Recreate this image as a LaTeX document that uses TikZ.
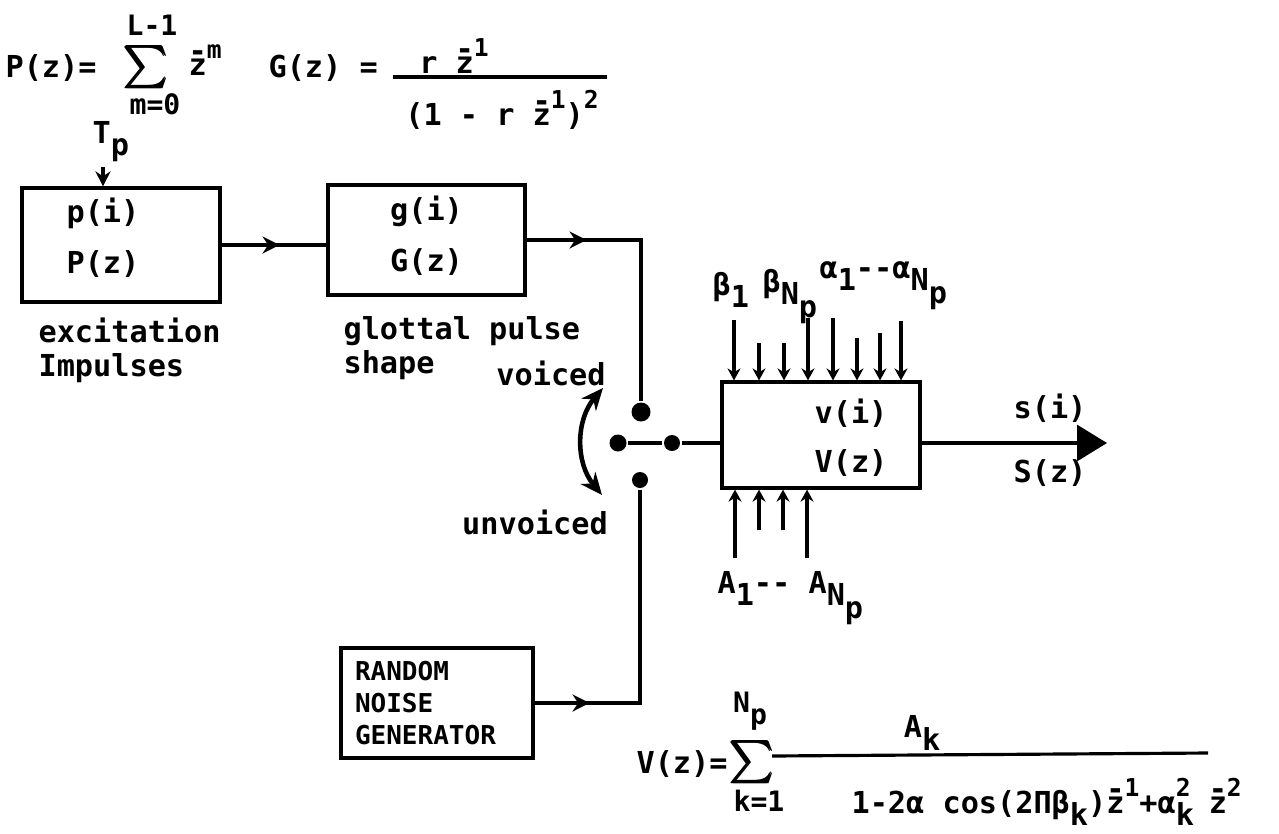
\documentclass[tikz,border=0pt]{standalone}
\usepackage{fontspec}
\setmainfont{DejaVu Sans Mono}
\usepackage{amsmath,amssymb,bm}
\usetikzlibrary{arrows.meta,decorations.markings,calc}

% raised / lowered pieces of the lettered formulas
\newcommand{\hi}[1]{\raisebox{0.55em}{\fontsize{7}{7}\selectfont #1}}
\newcommand{\lo}[1]{\raisebox{-0.42em}{#1}}
\newcommand{\zpow}[1]{\ooalign{z\cr\hfil\raisebox{0.45em}{-}\hfil\cr}\hi{#1}}
\newcommand{\bigsum}{{\fontsize{12}{12}\selectfont$\boldsymbol{\sum}$}}

\begin{document}
\begin{tikzpicture}[x=1cm,y=1cm, line width=0.9pt,
  font=\fontsize{8.6}{9.7}\selectfont\bfseries,
  flow/.style={-{Stealth[length=1.5mm,width=1.5mm]}},
  parm/.style={-{Stealth[length=1.2mm,width=1.3mm]}},
  midarrow/.style={postaction={decorate}, decoration={markings,
    mark=at position #1 with {\arrow{Stealth[length=1.7mm,width=1.7mm]}}}},
  box/.style={draw, minimum width=1.98cm, minimum height=1.12cm, inner sep=0pt},
  dot/.style={circle, fill, inner sep=0pt, minimum size=1.7mm},
  inbox/.style={align=center, inner sep=0pt},
  note/.style={align=left, anchor=west, inner sep=0pt},
  lbl/.style={inner sep=0pt, anchor=base west},
  sigma/.style={inner sep=0pt},
  limit/.style={inner sep=0pt, font=\fontsize{8}{8}\selectfont\bfseries}]

\path[use as bounding box] (0,0) rectangle (12.79,8.33);

% ------------------------------------------------------------------ formulas on top
\node[lbl] (pz) at (0.04,7.56) {P(z)=};
\node[sigma] (sumP) at (1.46,7.66) {\bigsum};
\node[limit] (sumPhi) at (1.52,8.08) {L-1};
\node[limit] (sumPlo) at (1.55,7.29) {m=0};
\node[lbl] (zm) at (1.87,7.58) {\zpow{m}};

\node[lbl] (gz) at (2.67,7.56) {G(z) =};
\coordinate (gfa) at (3.93,7.56);
\coordinate (gfb) at (6.07,7.56);
\draw (gfa) -- (gfb);
\node (gnum) at (4.54,7.77) {r \zpow{1}};
\node (gden) at (5.02,7.23) {(1 - r \zpow{1})\hi{2}};

% ------------------------------------------------------------------ voiced branch
\node[lbl] (tp) at (0.91,6.90) {T\lo{p}};
\coordinate (tpin) at (1.03,6.66);

\node[box, minimum height=1.14cm] (excit) at (1.21,5.88) {};
\node[inbox] (excitTxt) at ($(excit.center)+(-0.18,0.07)$) {p(i)\\[4.8pt]P(z)};
\node[note] (excitNote) at (0.37,4.83) {excitation\\Impulses};

\node[box, minimum width=1.97cm, minimum height=1.10cm] (glot) at (4.265,5.93) {};
\node[inbox] (glotTxt) at ($(glot.center)+(0,0.04)$) {g(i)\\[4.8pt]G(z)};
\node[note] (glotNote) at (3.42,4.85) {glottal pulse\\shape};

\draw[flow] (tpin) -- (tpin |- excit.north);
\draw[midarrow=0.58cm] (excit.east) -- (excit.east -| glot.west);

% ------------------------------------------------------------------ switch
\node[dot, minimum size=1.9mm] (vdot) at (6.41,4.21) {};
\node[dot] (sdot) at (6.18,3.90) {};
\node[dot, minimum size=1.6mm] (pdot) at (6.72,3.90) {};
\node[dot, minimum size=1.6mm] (udot) at (6.40,3.53) {};
\coordinate (swtop) at (6.03,4.45);
\coordinate (swbot) at (6.02,3.38);
\draw[line width=1.3pt, {Stealth[length=2.2mm,width=1.9mm]}-{Stealth[length=2.2mm,width=1.9mm]}]
  (swtop) to[bend right=40] (swbot);
\node (voiced) at (5.51,4.60) {voiced};
\node (unvoiced) at (5.35,3.11) {unvoiced};

\draw[midarrow=0.6cm] (glot.east) -| (vdot);

% ------------------------------------------------------------------ vocal tract
\node[box, minimum height=1.06cm] (tract) at (8.21,3.98) {};
\node[inbox] (tractTxt) at ($(tract.center)+(0.30,-0.03)$) {v(i)\\[4.2pt]V(z)};
\draw (sdot) -- (pdot) -- (pdot -| tract.west);

\foreach \x/\y [count=\i] in {7.34/5.13, 7.59/4.90, 7.84/4.90, 8.08/5.15,
                               8.33/5.15, 8.57/4.95, 8.80/5.00, 9.01/5.12} {
  \coordinate (b\i) at (\x,\y);
  \draw[parm] (b\i) -- (b\i |- tract.north);
}
\foreach \x/\y [count=\i] in {7.35/2.75, 7.59/3.03, 7.83/3.03, 8.07/2.75} {
  \coordinate (a\i) at (\x,\y);
  \draw[parm] (a\i) -- (a\i |- tract.south);
}
\node[lbl] (betaA) at (7.11,5.38) {β\lo{1}};
\node[lbl] (betaB) at (7.61,5.41) {β\lo{N\lo{p}}};
\node[lbl] (alphas) at (8.18,5.55) {α\lo{1}-{}-α\lo{N\lo{p}}};
\node[lbl] (amps) at (7.16,2.40) {A\lo{1}-{}- A\lo{N\lo{p}}};

\coordinate (out) at (11.07,3.90);
\draw[-{Triangle[length=3mm,width=3.6mm]}] (tract.east |- pdot) -- (out);
\node (si) at (10.50,4.25) {s(i)};
\node (sz) at (10.50,3.60) {S(z)};

% ------------------------------------------------------------------ unvoiced branch
\node[box, minimum width=1.92cm, minimum height=1.10cm, text width=1.64cm, align=left,
  font=\fontsize{7.4}{9.1}\selectfont\bfseries] (noise) at (4.37,1.30) {RANDOM\\NOISE\\GENERATOR};
\draw[midarrow=0.55cm] (noise.east) -| (udot);

% ------------------------------------------------------------------ V(z)
\node[lbl] (vz) at (6.35,0.60) {V(z)=};
\node[sigma] (sumV) at (7.52,0.71) {\bigsum};
\node[limit] (sumVhi) at (7.50,1.22) {N\lo{p}};
\node[limit] (sumVlo) at (7.59,0.32) {k=1};
\coordinate (vfa) at (7.72,0.77);
\coordinate (vfb) at (12.08,0.80);
\draw (vfa) -- (vfb);
\node (vnum) at (9.22,1.00) {A\lo{k}};
\node[lbl] (vden) at (8.50,0.20)
  {1-2α cos(2Πβ\lo{k})\zpow{1}+α\rlap{\lo{k}}\hi{2} \zpow{2}};
\end{tikzpicture}
\end{document}
